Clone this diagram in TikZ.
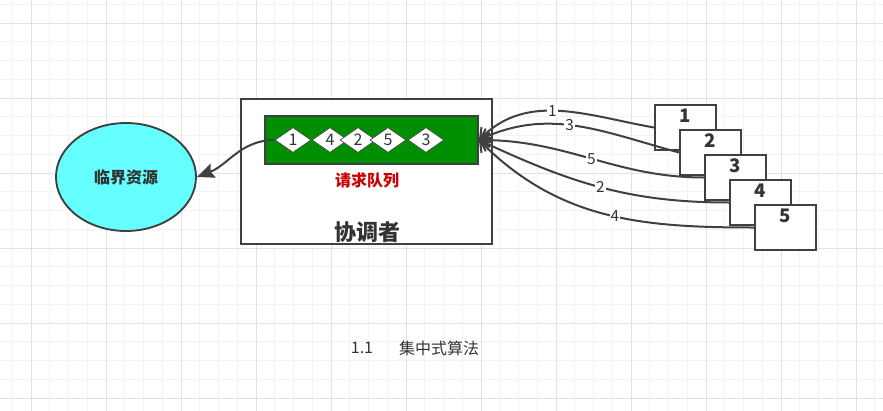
\documentclass[tikz,border=0pt]{standalone}
\usepackage{fontspec}
\setmainfont{Noto Sans CJK SC}
\usetikzlibrary{positioning, arrows.meta, shapes.geometric}
\definecolor{gridminor}{RGB}{243,243,243}
\definecolor{gridmajor}{RGB}{226,226,226}
\definecolor{linegray}{RGB}{64,64,64}
\definecolor{textgray}{RGB}{51,51,51}
\definecolor{queuegreen}{RGB}{0,143,0}
\definecolor{rescyan}{RGB}{102,255,255}
\definecolor{queuered}{RGB}{204,0,0}

\begin{document}
\begin{tikzpicture}[x=0.75pt, y=0.75pt, >=Stealth, text=textgray,
    res/.style={ellipse, draw=linegray, line width=1.4pt, fill=rescyan, minimum width=105pt, minimum height=81pt, font=\bfseries\fontsize{12}{14}\selectfont},
    coordbox/.style={rectangle, draw=linegray, line width=1.4pt, fill=white, minimum width=188pt, minimum height=109pt},
    queue/.style={rectangle, draw=linegray, line width=1.1pt, fill=queuegreen, minimum width=160pt, minimum height=36pt},
    slot/.style={diamond, aspect=1.44, draw=linegray, line width=0.5pt, fill=white, inner sep=0pt, minimum width=27pt, minimum height=18.75pt, font=\fontsize{12}{12}\selectfont},
    reqbox/.style={rectangle, draw=linegray, line width=1.4pt, fill=white, minimum width=45.75pt, minimum height=33.75pt},
    boxnum/.style={font=\bfseries\fontsize{14}{14}\selectfont},
    msg/.style={fill=white, inner sep=0.8pt, font=\fontsize{11.5}{12}\selectfont},
    link/.style={draw=linegray, line width=1.5pt}]
  \useasboundingbox (0,0) rectangle (883,-411);
  % background grid
  \foreach \i in {0,...,46} \draw[gridminor, line width=0.75pt] ({12.25+18.75*\i},0) -- ++(0,-411);
  \foreach \i in {0,...,21} \draw[gridminor, line width=0.75pt] (0,{-4.25-18.75*\i}) -- ++(883,0);
  \foreach \i in {0,...,11} \draw[gridmajor, line width=0.75pt] ({31+75*\i},0) -- ++(0,-411);
  \foreach \i in {0,...,5} \draw[gridmajor, line width=0.75pt] (0,{-23-75*\i}) -- ++(883,0);

  \node[res] (res) at (126,-177) {临界资源};
  \node[coordbox] (coord) at (366.5,-171.5) {};
  \node[queue] (queue) at (371.5,-140) {};
  \foreach \x/\n [count=\k] in {293/1, 330/4, 358/2, 388/5, 426/3}
    \node[slot] (d\k) at (\x,-140) {\n};
  \node[text=queuered, font=\bfseries\fontsize{12}{14}\selectfont] (qlbl) at (367,-180) {请求队列};
  \node[font=\bfseries\fontsize{16.5}{18}\selectfont] (clbl) at (367,-232) {协调者};
  \draw[link, -{Stealth[length=13pt, width=11pt, inset=2pt]}] (d1.west) .. controls (241,-140) and (228,-165) .. (res.east);

  % requesting processes
  \foreach \i in {1,...,5} {
    \node[reqbox] (b\i) at ({685.5+25*(\i-1)},{-127.5-25*(\i-1)}) {};
    \node[boxnum] (n\i) at ([yshift=-8.5pt]b\i.north) {\i};
  }
  \foreach \i/\o/\t/\m/\p in {1/170/45/1/0.54, 2/165/25/3/0.54, 3/180/0/5/0.5, 4/180/-25/2/0.5, 5/180/-45/4/0.46}
    \draw[link, -{Straight Barb[length=7pt, width=11pt]}] (b\i.west) to[out=\o, in=\t] node[msg, pos=\p] {\m} (queue.east);

  \node[font=\fontsize{12}{14}\selectfont] (capnum) at (362,-348) {1.1};
  \node[font=\fontsize{12}{14}\selectfont] (captxt) at (439,-348) {集中式算法};
\end{tikzpicture}
\end{document}
